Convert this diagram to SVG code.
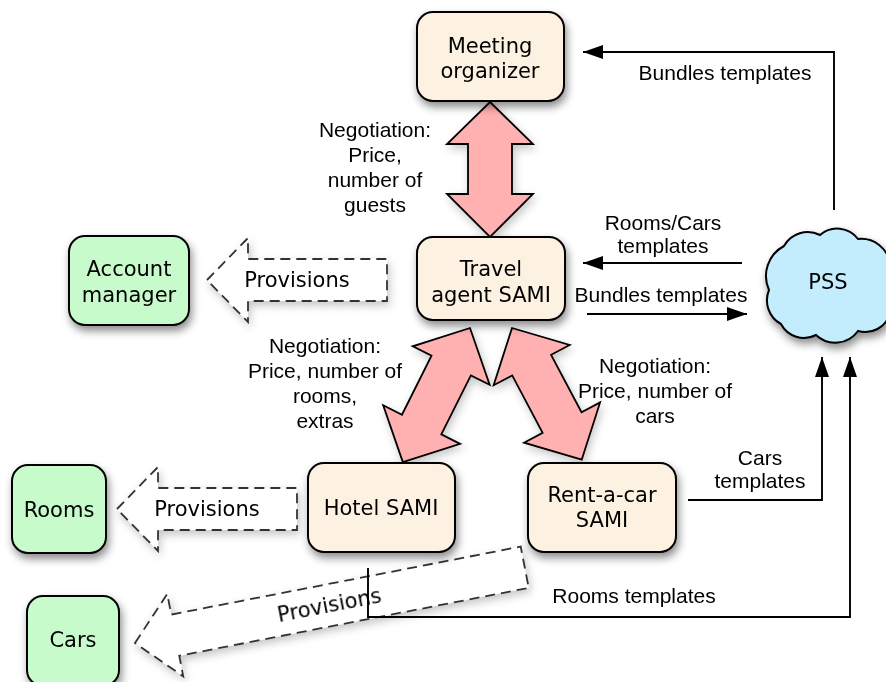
<svg xmlns="http://www.w3.org/2000/svg" width="886" height="682" viewBox="0 0 886 682">
  <defs>
    <filter id="shadow" x="-20%" y="-20%" width="150%" height="160%">
      <feDropShadow dx="2" dy="5" stdDeviation="4" flood-color="#000" flood-opacity="0.45"/>
    </filter>
    <filter id="softShadow" x="-20%" y="-20%" width="150%" height="160%">
      <feDropShadow dx="2" dy="4" stdDeviation="4" flood-color="#000" flood-opacity="0.22"/>
    </filter>
    <marker id="arrow" viewBox="0 0 20 14" refX="20" refY="7" markerWidth="20" markerHeight="14" markerUnits="userSpaceOnUse" orient="auto">
      <path d="M0,0 L20,7 L0,14 Z" fill="#000"/>
    </marker>
    <!-- left-pointing dashed block arrow, tip at origin -->
    <path id="provArrowShort" d="M0,0 L41,-42 L41,-21 L180,-21 L180,21 L41,21 L41,42 Z"/>
  </defs>
  <style>
    .node { stroke: #000; stroke-width: 2; }
    .agent { fill: #FDF1E1; }
    .res { fill: #C8FBCC; }
    .cloud { fill: #C3ECFD; stroke: #000; stroke-width: 2; }
    .nlabel { font-family: "DejaVu Sans", Verdana, sans-serif; font-size: 21px; fill: #000; text-anchor: middle; }
    .elabel { font-family: "Liberation Sans", Arial, sans-serif; font-size: 21px; fill: #000; text-anchor: middle; }
    .link { fill: none; stroke: #000; stroke-width: 1.9; }
    .block { fill: #FFB0B0; stroke: #000; stroke-width: 1.8; stroke-linejoin: miter; }
    .prov { fill: #fff; stroke: #333; stroke-width: 1.8; stroke-dasharray: 10 6; }
  </style>

  <!-- connectors -->
  <g id="connectors">
    <!-- provisioning arrows -->
    <g filter="url(#softShadow)">
      <use href="#provArrowShort" class="prov" transform="translate(207,280)"/>
      <use href="#provArrowShort" class="prov" transform="translate(117,509)"/>
      <path class="prov" transform="translate(135,643) rotate(-11)" d="M0,0 L41,-42 L41,-21 L397,-21 L397,21 L41,21 L41,42 Z"/>
    </g>
    <text class="nlabel" x="297" y="287">Provisions</text>
    <text class="nlabel" x="207" y="516">Provisions</text>
    <text class="nlabel" transform="translate(135,643) rotate(-11)" x="198" y="7">Provisions</text>

    <!-- negotiation arrows -->
    <g filter="url(#softShadow)">
      <path class="block" transform="translate(490,102)" d="M0,0 L43,42 L22,42 L22,92 L43,92 L0,135 L-43,92 L-22,92 L-22,42 L-43,42 Z"/>
      <path class="block" transform="translate(470,328) rotate(26.6)" d="M0,0 L43,42 L22,42 L22,108 L43,108 L0,150 L-43,108 L-22,108 L-22,42 L-43,42 Z"/>
      <path class="block" transform="translate(512,328) rotate(-27.9)" d="M0,0 L43,42 L22,42 L22,107 L43,107 L0,149 L-43,107 L-22,107 L-22,42 L-43,42 Z"/>
    </g>

    <!-- template flows -->
    <path class="link" d="M834,210 V52 H583" marker-end="url(#arrow)"/>
    <path class="link" d="M742,263 H583" marker-end="url(#arrow)"/>
    <path class="link" d="M587,314 H747" marker-end="url(#arrow)"/>
    <path class="link" d="M688,500 H822 V357" marker-end="url(#arrow)"/>
    <path class="link" d="M368,568 V617 H850 V357" marker-end="url(#arrow)"/>

    <!-- labels -->
    <text class="elabel" x="725" y="80">Bundles templates</text>
    <text class="elabel" x="375" y="137">Negotiation:</text>
    <text class="elabel" x="375" y="162">Price,</text>
    <text class="elabel" x="375" y="187">number of</text>
    <text class="elabel" x="375" y="212">guests</text>
    <text class="elabel" x="663" y="230">Rooms/Cars</text>
    <text class="elabel" x="663" y="253">templates</text>
    <text class="elabel" x="661" y="302">Bundles templates</text>
    <text class="elabel" x="325" y="353">Negotiation:</text>
    <text class="elabel" x="325" y="378">Price, number of</text>
    <text class="elabel" x="325" y="403">rooms,</text>
    <text class="elabel" x="325" y="428">extras</text>
    <text class="elabel" x="655" y="373">Negotiation:</text>
    <text class="elabel" x="655" y="398">Price, number of</text>
    <text class="elabel" x="655" y="423">cars</text>
    <text class="elabel" x="760" y="465">Cars</text>
    <text class="elabel" x="760" y="488">templates</text>
    <text class="elabel" x="634" y="603">Rooms templates</text>
  </g>

  <!-- nodes -->
  <g id="meeting-organizer" filter="url(#shadow)">
    <rect class="node agent" x="417" y="12" width="147" height="89" rx="16"/>
    <text class="nlabel" x="490" y="53">Meeting</text>
    <text class="nlabel" x="490" y="78">organizer</text>
  </g>
  <g id="travel-agent" filter="url(#shadow)">
    <rect class="node agent" x="417" y="237" width="148" height="83" rx="16"/>
    <text class="nlabel" x="491" y="276">Travel</text>
    <text class="nlabel" x="491" y="302">agent SAMI</text>
  </g>
  <g id="account-manager" filter="url(#shadow)">
    <rect class="node res" x="69" y="236" width="120" height="89" rx="16"/>
    <text class="nlabel" x="129" y="276">Account</text>
    <text class="nlabel" x="129" y="302">manager</text>
  </g>
  <g id="rooms" filter="url(#shadow)">
    <rect class="node res" x="12" y="465" width="94" height="88" rx="16"/>
    <text class="nlabel" x="59" y="517">Rooms</text>
  </g>
  <g id="hotel-sami" filter="url(#shadow)">
    <rect class="node agent" x="308" y="463" width="147" height="89" rx="16"/>
    <text class="nlabel" x="381" y="515">Hotel SAMI</text>
  </g>
  <g id="rent-a-car-sami" filter="url(#shadow)">
    <rect class="node agent" x="528" y="463" width="148" height="89" rx="16"/>
    <text class="nlabel" x="602" y="502">Rent-a-car</text>
    <text class="nlabel" x="602" y="527">SAMI</text>
  </g>
  <g id="cars" filter="url(#shadow)">
    <rect class="node res" x="27" y="596" width="92" height="90" rx="16"/>
    <text class="nlabel" x="73" y="647">Cars</text>
  </g>
  <g id="pss" filter="url(#shadow)">
    <path class="cloud" d="M769,290 A34,34 0 0 1 784,246 A27,27 0 0 1 820,235 A26,26 0 0 1 858,239 A29,29 0 0 1 890,264 A38,38 0 0 1 890,314 A26,26 0 0 1 858,331 A28,28 0 0 1 816,335 A26,26 0 0 1 781,324 A27,27 0 0 1 769,290 Z"/>
    <text class="nlabel" x="828" y="289">PSS</text>
  </g>
</svg>
